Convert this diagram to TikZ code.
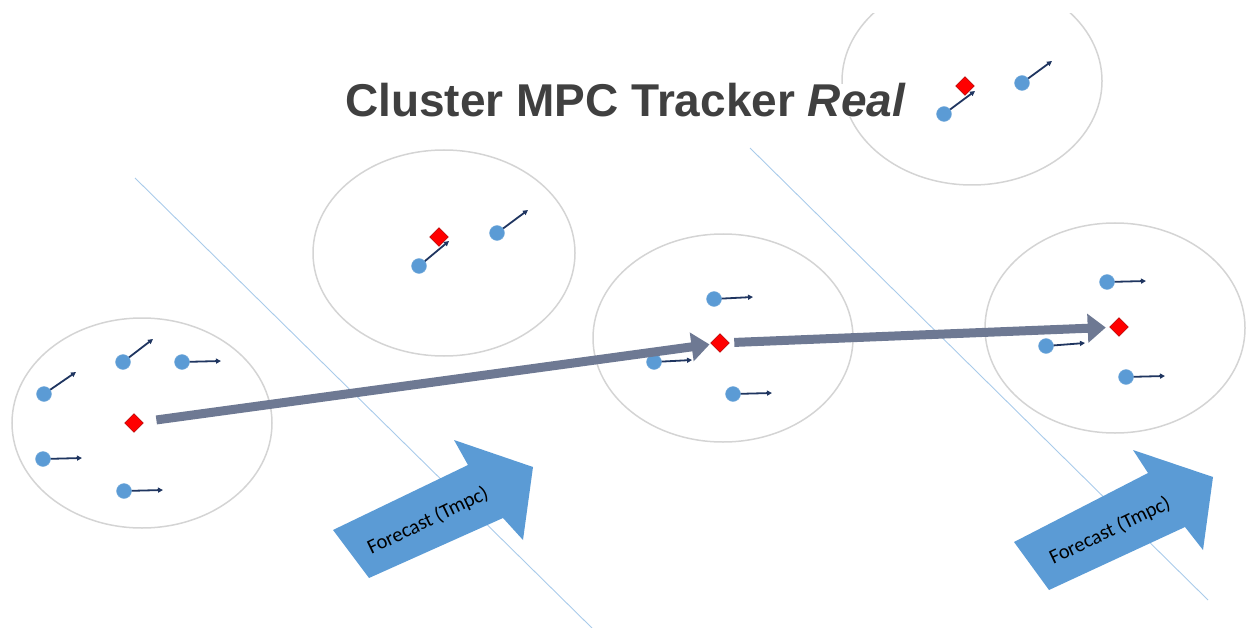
\documentclass[tikz,border=0pt]{standalone}
\usepackage{fontspec}
\setmainfont{Liberation Sans}
\newfontfamily\calfont{Carlito}
\usetikzlibrary{arrows.meta,shapes.geometric}
\definecolor{sepline}{HTML}{A9CBEA}
\definecolor{ellgray}{HTML}{D4D4D4}
\definecolor{dotblue}{HTML}{5B9BD5}
\definecolor{navy}{HTML}{1F3560}
\definecolor{trackcol}{HTML}{6E7993}
\definecolor{titlegray}{HTML}{404040}
\definecolor{blockblue}{HTML}{5B9BD5}
\tikzset{
  sepl/.style={draw=sepline, line width=0.9pt},
  cluster/.style={draw=ellgray, line width=1.5pt},
  dot/.style={circle, fill=dotblue, draw=dotblue!80!white, line width=0.4pt, minimum size=15pt, inner sep=0pt},
  vel/.style={draw=navy, line width=1.8pt, -{Triangle[length=5pt,width=5pt]}},
  centre/.style={diamond, fill=red, draw=red!60!black, line width=0.3pt, minimum size=19pt, inner sep=0pt},
  track/.style={draw=trackcol, line width=9pt, -{Triangle[length=18pt,width=28pt]}},
  block/.style={fill=blockblue, draw=none},
  fctext/.style={font=\calfont\fontsize{20.5}{22}\selectfont, text=black, inner sep=0pt}
}
\begin{document}
\begin{tikzpicture}[x=1pt,y=-1pt]
\useasboundingbox (0,0) rectangle (1246,628);
% separator lines
\coordinate (s1a) at (135,178); \coordinate (s1b) at (592,628);
\coordinate (s2a) at (750,148); \coordinate (s2b) at (1208,600);
\draw[sepl] (s1a) -- (s1b);
\draw[sepl] (s2a) -- (s2b);
% clusters
\draw[cluster] (142,423) ellipse [x radius=130, y radius=105];
\draw[cluster] (444,253) ellipse [x radius=131, y radius=103];
\draw[cluster] (723,338) ellipse [x radius=130, y radius=104];
\draw[cluster] (1115,328) ellipse [x radius=130, y radius=105];
\begin{scope}
\clip (820,14) rectangle (1120,200);
\draw[cluster] (972,81) ellipse [x radius=130, y radius=104];
\end{scope}
% title
\node[anchor=base west, fill=white, inner sep=0pt, text=titlegray,
      font=\bfseries\fontsize{46}{52}\selectfont] (title) at (345,117)
      {Cluster MPC Tracker \textit{Real}};
% forecast block arrows
\path[block] (333,530) -- (468,465) -- (454,440) -- (533,467) -- (523,540) -- (503,518) -- (369,578) -- cycle;
\node[fctext, rotate=25.7] (fc1) at (428,521) {Forecast (Tmpc)};
\path[block] (1014,542) -- (1148,473) -- (1133,450) -- (1213,477) -- (1203,550) -- (1185,527) -- (1049,590) -- cycle;
\node[fctext, rotate=25.7] (fc2) at (1110,531) {Forecast (Tmpc)};
% cluster centres
\node[centre] (d1) at (134,423) {};
\node[centre] (d2) at (439,237) {};
\node[centre] (d3) at (720,343) {};
\node[centre] (d4) at (1119,327) {};
\node[centre] (d5) at (965,86) {};
% velocity arrow tips
\coordinate (t1) at (76,372);
\coordinate (t2) at (153,339);
\coordinate (t3) at (221,361);
\coordinate (t4) at (82,458);
\coordinate (t5) at (163,490);
\coordinate (t6) at (449,241);
\coordinate (t7) at (528,210);
\coordinate (t8) at (753,297);
\coordinate (t9) at (692,360);
\coordinate (t10) at (772,393);
\coordinate (t11) at (1146,281);
\coordinate (t12) at (1085,343);
\coordinate (t13) at (1165,376);
\coordinate (t14) at (975,91);
\coordinate (t15) at (1052,61);
% velocity arrows
\draw[vel] (44,394) -- (t1);
\draw[vel] (123,362) -- (t2);
\draw[vel] (182,362) -- (t3);
\draw[vel] (43,459) -- (t4);
\draw[vel] (124,491) -- (t5);
\draw[vel] (419,266) -- (t6);
\draw[vel] (497,233) -- (t7);
\draw[vel] (714,299) -- (t8);
\draw[vel] (654,362) -- (t9);
\draw[vel] (733,394) -- (t10);
\draw[vel] (1107,282) -- (t11);
\draw[vel] (1046,346) -- (t12);
\draw[vel] (1126,377) -- (t13);
\draw[vel] (944,114) -- (t14);
\draw[vel] (1022,83) -- (t15);
% objects
\node[dot] (o1) at (44,394) {};
\node[dot] (o2) at (123,362) {};
\node[dot] (o3) at (182,362) {};
\node[dot] (o4) at (43,459) {};
\node[dot] (o5) at (124,491) {};
\node[dot] (o6) at (419,266) {};
\node[dot] (o7) at (497,233) {};
\node[dot] (o8) at (714,299) {};
\node[dot] (o9) at (654,362) {};
\node[dot] (o10) at (733,394) {};
\node[dot] (o11) at (1107,282) {};
\node[dot] (o12) at (1046,346) {};
\node[dot] (o13) at (1126,377) {};
\node[dot] (o14) at (944,114) {};
\node[dot] (o15) at (1022,83) {};
% tracks
\draw[track, shorten <=14pt, shorten >=2pt] (d1) -- (d3);
\draw[track, shorten <=5pt, shorten >=4pt] (d3) -- (d4);
\end{tikzpicture}
\end{document}
